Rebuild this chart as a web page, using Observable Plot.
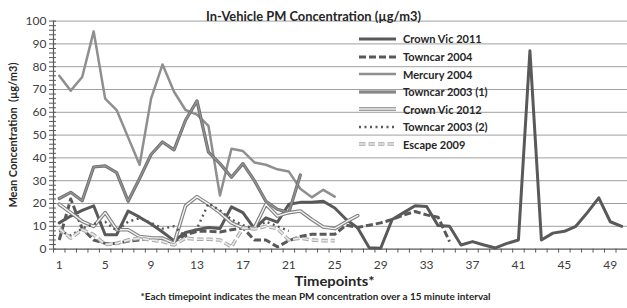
<!DOCTYPE html>
<html><head><meta charset="utf-8">
<script src="https://cdn.jsdelivr.net/npm/d3@7"></script>
<script src="https://cdn.jsdelivr.net/npm/@observablehq/plot@0.6"></script>
<style>
body{margin:0;background:#fff;}
#wrap{position:relative;width:627px;height:308px;overflow:hidden;}
#legend{position:absolute;left:356px;top:30.2px;font:bold 11px Lato, sans-serif;color:#262626;}
.row{height:17.55px;display:flex;align-items:center;white-space:nowrap;}
.row svg{margin-right:5px;}
</style></head><body><div id="wrap"><div id="legend"></div></div>
<script>
const chartTitle = "In-Vehicle PM Concentration (µg/m3)";
const yTitle = "Mean Concentration  (µg/m3)";
const xTitle = "Timepoints*";
const caption = "*Each timepoint indicates the mean PM concentration over a 15 minute interval";
const seriesNames = ["Crown Vic 2011","Towncar 2004","Mercury 2004","Towncar 2003 (1)","Crown Vic 2012","Towncar 2003 (2)","Escape 2009"];
const xTickLabels = [1,5,9,13,17,21,25,29,33,37,41,45,49];
const yTickLabels = [0,10,20,30,40,50,60,70,80,90,100];

const crownVic2011 = [11.5,14.5,17,19,6.3,6.3,16.7,14,11,7.5,3.7,7.3,8.5,9.5,9,18.5,16,9,13.7,11.8,19.7,20.5,20.5,21,18,13,9.3,0.6,0.4,13,16,19,18.7,10.3,10,1.8,3.3,1.8,0.5,2.5,4,87,4,7,7.8,10,16,22.5,12,10];
const towncar2004 = [4,22,9,4,2.5,2.5,3.5,4,4.8,4.3,3.3,6.3,7.8,7.8,7.5,8.5,9.3,4,4,1,3.7,5.5,6.5,6.5,6.5,10.5,9.5,10.5,11.5,13,15,16.5,15,14,3.3];
const mercury2004 = [76,69.5,75.5,95.5,66,61,49,37,66,81,69,61,59,54,23.5,44,43,38,37,35,34,26.5,22.7,26,23];
const towncar2003a = [22.2,24.9,21.2,36,36.5,33.5,21,31,41.5,47,43.5,56.5,65,42.5,37.5,31.5,37.5,30,21,17.5,16,32.5];
const crownVic2012 = [19.7,16,12.2,10,16,8.5,8.5,5.5,5,4.8,2.5,19,23,19.7,16,11.5,9.3,9.3,19.7,14.5,16,16.7,13,9.7,9,12,14.7];
const towncar2003b = [8,6,9,11,12,8,12,13.5,11.5,9,10,5.5,9,20,17,13,10.5,9,12,10,8];
const escape2009 = [9,4.8,8.5,6.3,2,2.5,4,4.8,4,3.3,1.8,4.8,4.3,4.3,4,1,9.3,8.8,10,9,4,4.8,4,3.7,3.7];

const seriesValues = [crownVic2011,towncar2004,mercury2004,towncar2003a,crownVic2012,towncar2003b,escape2009];

const seriesStyles = [
  [{stroke:"#595959", w:3}],
  [{stroke:"#595959", w:3, dash:"7,3"}],
  [{stroke:"#8f8f8f", w:2.5}],
  [{stroke:"#6b6b6b", w:3.2},{stroke:"#909090", w:1.6}],
  [{stroke:"#7f7f7f", w:3.6},{stroke:"#f2f2f2", w:1.4}],
  [{stroke:"#595959", w:2.4, dash:"2,3.5"}],
  [{stroke:"#a8a8a8", w:3.6, dash:"6.5,3"},{stroke:"#e8e8e8", w:1.6, dash:"6.5,3"}]
];

const rows = seriesNames.flatMap((name, i) => seriesValues[i].map((v, j) => ({series: name, t: j + 1, v})));

const lineMarks = [];
seriesNames.forEach((name, i) => {
  const data = rows.filter(d => d.series === name);
  seriesStyles[i].forEach(s => {
    lineMarks.push(Plot.line(data, {x: "t", y: "v", stroke: s.stroke, strokeWidth: s.w,
      strokeDasharray: s.dash, strokeLinejoin: "round", strokeLinecap: s.dash ? "butt" : "round"}));
  });
});

const plot = Plot.plot({
  width: 627, height: 308,
  marginLeft: 53, marginRight: 0, marginTop: 20.6, marginBottom: 59.4,
  x: {domain: [0.5, 50.5]},
  y: {domain: [0, 100]},
  style: {fontFamily: "Lato, sans-serif", color: "#404040", background: "white"},
  marks: [
    Plot.gridY({ticks: yTickLabels.slice(1), stroke: "#a0a0a0", strokeOpacity: 1, strokeWidth: 1}),
    Plot.axisY({ticks: d3.range(0, 101, 2), tickFormat: () => "", tickSize: 7, dx: 3, stroke: "#595959", label: null}),
    Plot.axisY({ticks: yTickLabels, tickSize: 0, tickPadding: 7, fontSize: 12, fill: "#404040", label: null}),
    Plot.axisX({ticks: d3.range(0.5, 51, 1), tickFormat: () => "", tickSize: 4, stroke: "#595959", label: null}),
    Plot.axisX({ticks: xTickLabels, tickSize: 0, tickPadding: 11, fontSize: 12, fill: "#404040", label: null}),
    Plot.ruleX([0.5], {stroke: "#595959", strokeWidth: 1.2}),
    Plot.ruleY([0], {stroke: "#595959", strokeWidth: 1.2}),
    ...lineMarks,
    Plot.text([chartTitle], {frameAnchor: "top", dx: -27, dy: -10, fontSize: 14, fontWeight: "bold", fill: "#262626"}),
    Plot.text([yTitle], {frameAnchor: "left", textAnchor: "middle", dx: -40, rotate: -90, fontSize: 10.5, fontWeight: "bold", fill: "#262626"}),
    Plot.text([xTitle], {frameAnchor: "bottom", dx: -6, dy: 37, fontSize: 14, fontWeight: "bold", fill: "#262626"}),
    Plot.text([caption], {frameAnchor: "bottom", dx: -25, dy: 51, fontSize: 10, fontWeight: "bold", fill: "#262626"})
  ]
});
document.getElementById("wrap").prepend(plot);

const fitTo = {[chartTitle]: 215, [yTitle]: 145, [xTitle]: 80, [caption]: 350};
d3.select(plot).selectAll("text").each(function() {
  const w = fitTo[this.textContent];
  if (w) { this.setAttribute("textLength", w); this.setAttribute("lengthAdjust", "spacingAndGlyphs"); }
});

const legend = d3.select("#legend");
seriesNames.forEach((name, i) => {
  const row = legend.append("div").attr("class", "row");
  const sw = row.append("svg").attr("width", 42).attr("height", 10);
  seriesStyles[i].forEach(s => {
    sw.append("line").attr("x1", 3).attr("x2", 40).attr("y1", 5).attr("y2", 5)
      .attr("stroke", s.stroke).attr("stroke-width", s.w)
      .attr("stroke-dasharray", s.dash || null);
  });
  row.append("span").text(name);
});
</script>
</body></html>
